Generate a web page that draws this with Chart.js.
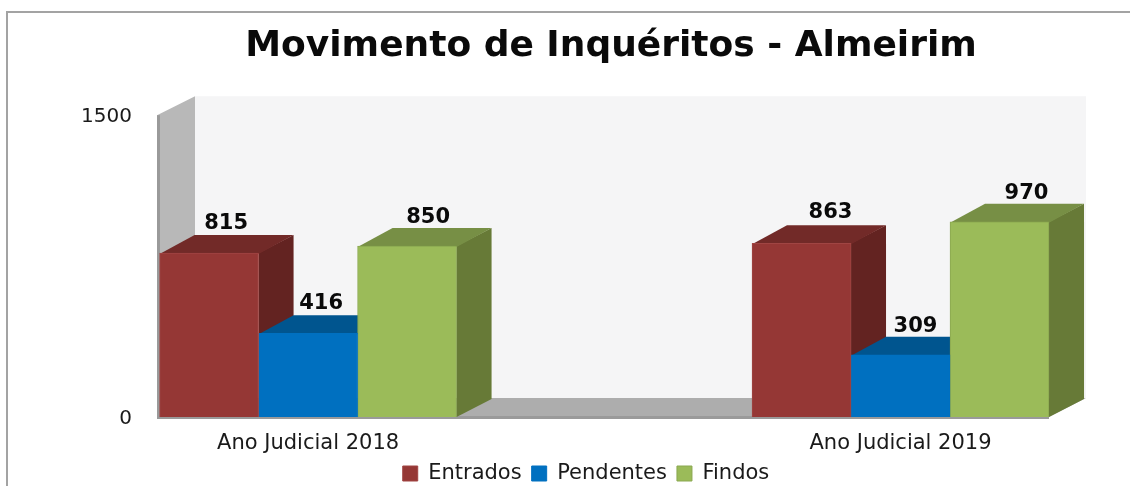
<!DOCTYPE html>
<html>
<head>
<meta charset="utf-8">
<script src="https://cdn.jsdelivr.net/npm/chart.js@4"></script>
<style>
html,body{margin:0;padding:0;background:#fff;overflow:hidden}
#wrap{position:relative;width:1130px;height:486px}
#frame{position:absolute;left:6px;top:11px;right:-4px;bottom:-4px;border-left:2px solid #a3a3a3;border-top:2px solid #a3a3a3}
canvas{position:absolute;left:0;top:0}
</style>
</head>
<body>
<div id="wrap"><div id="frame"></div><canvas id="c" width="1130" height="486"></canvas></div>
<script>
const categories = ['Ano Judicial 2018', 'Ano Judicial 2019'];
const entrados = [815, 863];
const pendentes = [416, 309];
const findos = [850, 970];
const yTicks = [0, 1500];

const catPositions = categories.map((_, i) => i);

const depth = {dx: 35, dy: -18};

function poly(ctx, pts, fill) {
  ctx.beginPath();
  pts.forEach((p, i) => i ? ctx.lineTo(p[0], p[1]) : ctx.moveTo(p[0], p[1]));
  ctx.closePath();
  ctx.fillStyle = fill;
  ctx.fill();
}

const box3d = {
  id: 'box3d',
  afterLayout(chart) {
    const title = chart.titleBlock, legend = chart.legend;
    title.left += 173;
    legend.left += 123;
  },
  beforeDatasetsDraw(chart) {
    const {ctx, chartArea: a} = chart;
    const wx = 38, wy = -19;
    poly(ctx, [[a.left + wx, a.top + wy], [a.right + wx - 1, a.top + wy], [a.right + wx - 1, a.bottom + wy], [a.left + wx, a.bottom + wy]], '#f5f5f6');
    poly(ctx, [[a.left, a.top], [a.left + wx, a.top + wy], [a.left + wx, a.bottom + wy], [a.left, a.bottom]], '#b8b8b8');
    poly(ctx, [[a.left, a.bottom], [a.left + wx, a.bottom + wy], [a.right + wx - 1, a.bottom + wy], [a.right, a.bottom]], '#adadad');
    ctx.fillStyle = '#9a9a9a';
    ctx.fillRect(a.left, a.top, 3, a.bottom - a.top);
    ctx.fillRect(a.left, a.bottom - 1, a.right - a.left, 3);
    chart.data.datasets.forEach((ds, i) => {
      chart.getDatasetMeta(i).data.forEach(bar => {
        const {x, y, base, width} = bar.getProps(['x', 'y', 'base', 'width'], true);
        const l = x - width / 2, r = x + width / 2, {dx, dy} = depth;
        poly(ctx, [[r, y], [r + dx, y + dy], [r + dx, base + dy], [r, base]], ds.sideColor);
        poly(ctx, [[l, y + 1], [l + dx, y + dy], [r + dx, y + dy], [r, y + 1]], ds.topColor);
      });
    });
  },
  afterDatasetsDraw(chart, _a, opts) {
    const {ctx} = chart;
    ctx.save();
    ctx.font = 'bold 21px "DejaVu Sans"';
    ctx.fillStyle = '#0a0a0a';
    ctx.textAlign = 'center';
    ctx.textBaseline = 'middle';
    chart.data.datasets.forEach((ds, i) => {
      chart.getDatasetMeta(i).data.forEach((bar, j) => {
        const n = opts.nudge[i][j];
        ctx.fillText(ds.data[j].y, bar.x + n[0], bar.y + n[1]);
      });
    });
    ctx.restore();
  }
};

function series(label, values, front, edge, side, top) {
  return {
    label,
    data: values.map((v, i) => ({x: catPositions[i], y: v})),
    backgroundColor: front,
    borderColor: edge,
    borderWidth: 1,
    sideColor: side,
    topColor: top,
    barThickness: 99
  };
}

new Chart(document.getElementById('c'), {
  type: 'bar',
  data: {
    datasets: [
      series('Entrados', entrados, '#953735', '#a04543', '#632321', '#722a28'),
      series('Pendentes', pendentes, '#0070c0', '#0070c0', '#00558f', '#00558f'),
      series('Findos', findos, '#9bbb59', '#8aa850', '#677a37', '#778f45')
    ]
  },
  plugins: [box3d],
  options: {
    responsive: false,
    animation: false,
    layout: {padding: {left: 0, right: 81, top: 0, bottom: -8}},
    scales: {
      x: {
        type: 'linear',
        offset: false,
        min: -0.255,
        max: 1.2506,
        grid: {display: false},
        border: {display: false},
        afterBuildTicks: s => { s.ticks = catPositions.map(v => ({value: v})); },
        afterFit: s => { s.height = 36; },
        ticks: {
          callback: v => categories[v],
          maxRotation: 0,
          autoSkip: false,
          color: '#1a1a1a',
          padding: 6,
          font: {family: '"DejaVu Sans"', size: 21}
        }
      },
      y: {
        min: yTicks[0],
        max: yTicks[1],
        grid: {display: false},
        border: {display: false},
        afterBuildTicks: s => { s.ticks = yTicks.map(v => ({value: v})); },
        afterFit: s => { s.width = 157; },
        ticks: {
          callback: v => String(v),
          color: '#1a1a1a',
          padding: 17,
          labelOffset: 2,
          font: {family: '"DejaVu Sans"', size: 20}
        }
      }
    },
    plugins: {
      box3d: {
        nudge: [
          [[17, -29], [29, -31]],
          [[13, -30], [15, -28]],
          [[21, -28], [27, -28]]
        ]
      },
      tooltip: {enabled: false},
      title: {
        display: true,
        text: 'Movimento de Inquéritos - Almeirim',
        color: '#0a0a0a',
        font: {family: '"DejaVu Sans"', size: 36, weight: 'bold'},
        padding: {top: 25, bottom: 47}
      },
      legend: {
        position: 'bottom',
        labels: {
          boxWidth: 15,
          boxHeight: 15,
          padding: 10,
          color: '#1a1a1a',
          font: {family: '"DejaVu Sans"', size: 21}
        }
      }
    }
  }
});
</script>
</body>
</html>
